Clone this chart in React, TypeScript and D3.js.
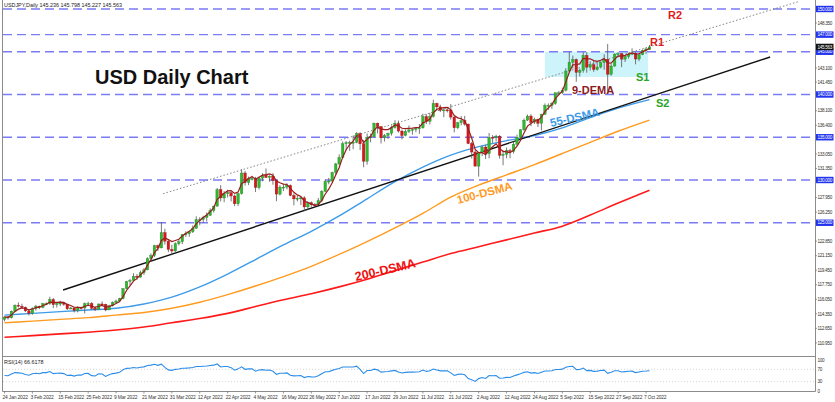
import React, { useEffect, useRef } from 'react';
import * as d3 from 'd3';

const W = 835;
const H = 402;

// USDJPY daily candles [open, high, low, close], 24 Jan 2022 .. 10 Oct 2022 (weekdays)
const candles: [number, number, number, number][] = [
  [113.68,114.03,113.47,113.98],[113.98,114.10,113.67,113.88],[113.88,114.73,113.80,114.66],[114.66,115.45,114.55,115.35],[115.35,115.68,115.10,115.24],[115.24,115.53,114.98,115.12],
  [115.12,115.20,114.56,114.69],[114.69,114.80,114.16,114.41],[114.41,115.10,114.25,114.98],[114.98,115.40,114.72,115.25],[115.25,115.30,114.90,115.09],[115.09,115.63,115.00,115.55],[115.55,115.68,115.40,115.55],[115.55,116.34,115.40,116.03],[116.03,116.19,115.02,115.42],[115.42,115.72,115.08,115.57],[115.57,115.88,115.25,115.61],[115.61,115.70,115.29,115.47],[115.47,115.54,114.79,114.93],[114.93,115.17,114.88,115.03],[115.03,115.10,114.51,114.74],[114.74,115.24,114.52,115.07],[115.07,115.18,114.84,115.03],[115.03,115.67,114.40,115.53],[115.53,115.76,115.25,115.56],[115.56,115.71,114.87,114.99],
  [114.99,115.20,114.68,114.87],[114.87,115.55,114.85,115.50],[115.50,115.80,115.35,115.47],[115.47,115.53,114.65,114.80],[114.80,115.40,114.80,115.29],[115.29,115.80,115.20,115.68],[115.68,116.00,115.55,115.85],[115.85,116.22,115.70,116.13],[116.13,117.35,116.05,117.29],[117.29,118.20,117.22,118.14],[118.14,118.45,117.70,118.26],[118.26,119.10,118.20,118.75],[118.75,119.00,118.30,118.62],[118.62,119.40,118.60,119.17],[119.17,119.70,118.90,119.48],[119.48,120.95,119.45,120.81],[120.81,121.41,120.45,121.18],[121.18,122.42,121.00,122.33],[122.33,122.44,121.70,122.05],[122.05,125.09,122.03,123.85],[123.85,124.30,122.45,122.85],[122.85,123.00,121.56,121.88],[121.88,122.42,121.28,121.70],
  [121.70,122.70,121.60,122.55],[122.55,123.05,122.35,122.78],[122.78,123.70,122.50,123.61],[123.61,124.00,123.35,123.72],[123.72,124.05,123.35,123.95],[123.95,124.69,123.80,124.34],[124.34,125.75,124.30,125.37],[125.37,125.65,124.70,125.39],[125.39,125.82,125.00,125.62],[125.62,126.20,125.15,125.86],[125.86,126.69,125.80,126.42],[126.42,127.00,126.20,126.94],[126.94,129.08,126.90,128.88],[128.88,129.40,127.50,127.90],[127.90,128.70,127.40,128.40],[128.40,128.85,127.95,128.52],[128.52,128.65,127.50,128.13],[128.13,128.30,126.95,127.22],[127.22,128.50,126.97,128.41],[128.41,131.25,128.30,130.82],[130.82,131.05,129.35,129.70],
  [129.70,130.40,129.40,130.16],[130.16,130.50,129.95,130.16],[130.16,130.37,128.60,129.11],[129.11,130.44,128.90,130.21],[130.21,130.80,129.85,130.56],[130.56,131.35,130.25,130.29],[130.29,130.55,129.80,130.45],[130.45,130.80,129.45,129.94],[129.94,130.05,127.52,128.35],[128.35,129.40,128.20,129.17],[129.17,129.50,128.70,129.17],[129.17,129.62,128.90,129.36],[129.36,129.48,128.10,128.19],[128.19,128.43,127.03,127.79],[127.79,128.20,127.50,127.87],[127.87,128.10,127.08,127.91],[127.91,128.10,126.36,126.85],[126.85,127.50,126.50,127.34],[127.34,127.50,126.85,127.12],[127.12,127.30,126.85,127.10],[127.10,127.90,127.05,127.60],[127.60,128.80,127.40,128.67],
  [128.67,130.05,128.60,129.84],[129.84,130.25,129.50,129.88],[129.88,130.98,129.70,130.88],[130.88,132.00,130.60,131.88],[131.88,133.00,131.70,132.64],[132.64,134.50,132.50,134.24],[134.24,134.55,133.50,134.37],[134.37,134.60,133.40,134.40],[134.40,135.20,133.60,134.41],[134.41,135.60,134.30,135.44],[135.44,135.59,133.50,134.23],[134.23,134.68,131.50,132.20],[132.20,135.44,131.80,134.99],[134.99,135.43,134.40,135.07],[135.07,136.71,135.00,136.64],[136.64,136.71,135.45,136.25],[136.25,136.30,134.27,134.93],[134.93,135.38,134.50,135.21],[135.21,135.55,134.80,135.46],[135.46,136.38,135.20,136.13],[136.13,137.00,136.00,136.61],[136.61,136.95,135.55,135.72],
  [135.72,135.90,134.75,135.20],[135.20,135.90,135.10,135.69],[135.69,136.38,135.50,135.86],[135.86,136.00,135.30,135.92],[135.92,136.15,135.60,136.02],[136.02,136.55,135.40,136.10],[136.10,137.75,136.00,137.43],[137.43,137.70,136.55,136.86],[136.86,137.85,136.50,137.42],[137.42,139.38,137.30,138.96],[138.96,139.05,138.10,138.55],[138.55,138.80,137.95,138.14],[138.14,138.40,137.35,138.20],[138.20,138.40,137.90,138.19],[138.19,138.88,137.06,137.36],[137.36,137.50,135.57,136.10],[136.10,136.80,135.95,136.70],[136.70,137.47,136.40,136.95],[136.95,137.50,136.35,136.54],[136.54,136.60,134.20,134.26],[134.26,134.45,132.52,133.27],
  [133.27,133.50,131.60,131.62],[131.62,133.25,130.39,133.18],[133.18,134.00,132.80,133.86],[133.86,134.10,132.45,133.08],[133.08,135.50,132.53,135.00],[135.00,135.25,134.35,134.97],[134.97,135.30,134.50,135.12],[135.12,135.25,132.50,132.88],[132.88,133.45,131.73,133.00],[133.00,133.80,132.55,133.45],[133.45,133.65,132.55,133.32],[133.32,134.45,133.10,134.19],[134.19,135.30,134.00,135.01],[135.01,135.95,134.65,135.87],[135.87,137.20,135.75,137.00],[137.00,137.65,136.90,137.48],[137.48,137.70,136.30,136.75],[136.75,137.30,136.55,137.11],[137.11,137.20,136.20,136.62],[136.62,137.75,135.80,137.69],[137.69,138.95,137.60,138.73],[138.73,138.95,138.20,138.74],[138.74,139.10,138.30,138.95],
  [138.95,140.22,138.80,140.20],[140.20,140.40,139.90,140.20],[140.20,140.80,140.05,140.50],[140.50,143.08,140.35,142.75],[142.75,144.99,142.70,143.78],[143.78,144.55,143.05,144.10],[144.10,144.20,141.49,142.58],[142.58,143.00,142.10,142.83],[142.83,144.95,142.55,144.58],[144.58,144.96,142.55,143.19],[143.19,143.88,142.80,143.48],[143.48,143.95,142.65,142.91],[142.91,143.80,142.80,143.21],[143.21,143.90,143.05,143.73],[143.73,144.70,142.90,144.11],[144.11,145.90,140.35,142.37],[142.37,143.55,142.20,143.33],[143.33,144.80,143.25,144.73],[144.73,144.95,144.35,144.79],[144.79,144.85,143.20,144.14],[144.14,144.55,143.80,144.45],[144.45,144.87,144.20,144.72],
  [144.72,145.40,144.60,144.83],[144.83,144.95,143.53,144.15],[144.15,144.85,143.90,144.64],[144.64,145.25,144.60,145.16],[145.16,145.40,144.75,145.33],[145.236,145.798,145.227,145.563],
];

// x-axis labels, every 8th bar
const dateLabels = ['24 Jan 2022','3 Feb 2022','15 Feb 2022','25 Feb 2022','9 Mar 2022','21 Mar 2022','31 Mar 2022','12 Apr 2022','22 Apr 2022','4 May 2022','16 May 2022','26 May 2022','7 Jun 2022','17 Jun 2022','29 Jun 2022','11 Jul 2022','21 Jul 2022','2 Aug 2022','12 Aug 2022','24 Aug 2022','5 Sep 2022','15 Sep 2022','27 Sep 2022','7 Oct 2022'];

// moving averages read at every 8th bar (+ last bar)
const maBars = [0,8,16,24,32,40,48,56,64,72,80,88,96,104,112,120,128,136,144,152,160,168,176,185];
const sma55 = [114.2,114.4,114.6,114.8,115.0,115.5,116.3,117.5,119.0,120.7,122.4,124.0,125.8,127.8,129.8,131.5,132.9,133.9,134.6,135.2,136.1,137.3,138.4,139.4];
const sma100 = [113.3,113.5,113.7,113.9,114.2,114.5,115.0,115.7,116.6,117.6,118.7,119.9,121.3,122.8,124.4,126.1,128.0,129.4,130.6,131.8,133.1,134.4,135.7,137.0];
const sma200 = [111.6,111.8,112.0,112.2,112.45,112.8,113.3,113.8,114.4,115.2,116.0,116.7,117.5,118.4,119.4,120.4,121.4,122.2,123.0,123.8,124.6,125.9,127.3,128.8];

// horizontal levels and price-scale labels
const levels = [150, 147, 145, 140, 135, 130, 125];
const axisTicks = [148.35,143.1,141.45,138.1,136.4,133.05,131.35,127.95,126.25,122.85,121.15,119.45,117.75,116.05,114.35,112.65,110.95];
const rsiTicks = [100, 70, 30, 0];
const headerValues = ['145.236','145.798','145.227','145.563'];
const lastPrice = 145.563;
const rsiLast = '66.6178';

// trend lines [bar, price]
const supportLine: [number, number][] = [[16.8, 117.13], [219.6, 144.39]];
const channelLine: [number, number][] = [[45.5, 128.4], [228, 150.9]];
const s1Zone = { fromBar: 155, toBar: 184.6, top: 145.0, bottom: 142.05 };

export default function App() {
  const ref = useRef<SVGSVGElement>(null);
  useEffect(() => {
    const svg = d3.select(ref.current);
    svg.selectAll('*').remove();
    const font = 'Liberation Sans, Arial, sans-serif';
    const x = d3.scaleLinear().domain([0, 185]).range([4.5, 649.5]);
    const y = d3.scaleLinear().domain([150, 110]).range([9, 351]);
    const yr = d3.scaleLinear().domain([0, 100]).range([391, 360]);
    const axisX = 815.5;
    const mainBottom = 356.5;
    const rsiBottom = 391.5;

    svg.append('rect').attr('width', W).attr('height', H).attr('fill', '#fff');
    svg.append('defs').append('clipPath').attr('id', 'mainclip')
      .append('rect').attr('x', 3).attr('y', 0).attr('width', axisX - 3).attr('height', mainBottom);
    const main = svg.append('g').attr('clip-path', 'url(#mainclip)');

    // S1 zone
    main.append('rect')
      .attr('x', x(s1Zone.fromBar)).attr('y', y(s1Zone.top))
      .attr('width', x(s1Zone.toBar) - x(s1Zone.fromBar)).attr('height', y(s1Zone.bottom) - y(s1Zone.top))
      .attr('fill', '#cdf3fb');

    // horizontal dashed levels
    main.selectAll('line.lvl').data(levels).enter().append('line')
      .attr('x1', 3).attr('x2', axisX).attr('y1', d => y(d)).attr('y2', d => y(d))
      .attr('stroke', '#7b7bf5').attr('stroke-width', 1.3).attr('stroke-dasharray', '9,5');

    // SMAs
    const maLine = d3.line<number>().x((_, i) => x(maBars[i])).y(d => y(d)).curve(d3.curveMonotoneX);
    main.append('path').attr('d', maLine(sma200)).attr('fill', 'none').attr('stroke', '#ff1a1a').attr('stroke-width', 1.6);
    main.append('path').attr('d', maLine(sma100)).attr('fill', 'none').attr('stroke', '#ff9a1f').attr('stroke-width', 1.4);
    main.append('path').attr('d', maLine(sma55)).attr('fill', 'none').attr('stroke', '#3d9be9').attr('stroke-width', 1.4);

    // trend lines
    const tl = d3.line<[number, number]>().x(d => x(d[0])).y(d => y(d[1]));
    main.append('path').attr('d', tl(supportLine)).attr('stroke', '#111').attr('stroke-width', 1.4).attr('fill', 'none');
    main.append('path').attr('d', tl(channelLine)).attr('stroke', '#777').attr('stroke-width', 0.9).attr('stroke-dasharray', '1.5,2').attr('fill', 'none');

    // candles
    const cg = main.append('g');
    candles.forEach((c, i) => {
      const [o, h, l, cl] = c;
      const cx = x(i);
      cg.append('line').attr('x1', cx).attr('x2', cx).attr('y1', y(h)).attr('y2', y(l)).attr('stroke', '#555').attr('stroke-width', 0.8);
      const top = y(Math.max(o, cl));
      const bh = Math.max(1, Math.abs(y(o) - y(cl)));
      cg.append('rect').attr('x', cx - 1.3).attr('y', top).attr('width', 2.6).attr('height', bh)
        .attr('fill', cl >= o ? '#2fb82f' : '#d81818').attr('stroke', cl >= o ? '#1d7a1d' : '#8a0f0f').attr('stroke-width', 0.3);
    });

    // 9-DEMA computed from closes
    const closes = candles.map(c => c[3]);
    const ema = (arr: number[], n: number) => {
      const k = 2 / (n + 1);
      const out: number[] = [];
      arr.forEach((v, i) => out.push(i === 0 ? v : v * k + out[i - 1] * (1 - k)));
      return out;
    };
    const e1 = ema(closes, 9);
    const e2 = ema(e1, 9);
    const dema = e1.map((v, i) => 2 * v - e2[i]);
    main.append('path').attr('d', d3.line<number>().x((_, i) => x(i)).y(d => y(d))(dema))
      .attr('fill', 'none').attr('stroke', '#9b1c1c').attr('stroke-width', 1.2);

    // annotations
    const ann = (t: string, px: number, py: number, color: string, size: number, rot = 0) => {
      svg.append('text').text(t).attr('x', px).attr('y', py).attr('fill', color)
        .attr('font-family', font).attr('font-weight', 'bold').attr('font-size', size)
        .attr('transform', rot ? `rotate(${rot},${px},${py})` : null);
    };
    ann('USD Daily Chart', 95, 84, '#111', 20);
    ann('R2', 668, 19, '#e01b1b', 11);
    ann('R1', 650, 46, '#e01b1b', 11);
    ann('S1', 636, 81, '#2aa52a', 11);
    ann('S2', 656, 107, '#2aa52a', 11);
    ann('9-DEMA', 572, 94, '#8b1a1a', 11);
    ann('55-DSMA', 551, 127, '#3d9be9', 11.5, -13);
    ann('100-DSMA', 458, 204, '#ff9a1f', 11.5, -15);
    ann('200-DSMA', 356, 281, '#ee1111', 12.5, -13);

    // small text helper
    const small = (t: string, px: number, py: number, color: string, size = 5.2, spacing = 0) => {
      svg.append('text').text(t).attr('x', px).attr('y', py).attr('fill', color)
        .attr('font-family', font).attr('font-size', size)
        .attr('letter-spacing', spacing);
    };

    // header
    small('USDJPY,Daily  ' + headerValues.join(' '), 4, 7, '#222', 5.4);

    // RSI (Wilder, 14) from closes
    const rsi: number[] = [];
    let ag = 0.25, al = 0.25;
    closes.forEach((c, i) => {
      if (i > 0) {
        const ch = c - closes[i - 1];
        ag = (ag * 13 + Math.max(ch, 0)) / 14;
        al = (al * 13 + Math.max(-ch, 0)) / 14;
      }
      rsi.push(100 - 100 / (1 + ag / al));
    });
    [70, 30].forEach(v => {
      svg.append('line').attr('x1', 3).attr('x2', axisX).attr('y1', yr(v)).attr('y2', yr(v))
        .attr('stroke', '#bbb').attr('stroke-width', 0.6).attr('stroke-dasharray', '1,2');
    });
    svg.append('path').attr('d', d3.line<number>().x((_, i) => x(i)).y(d => yr(d))(rsi))
      .attr('fill', 'none').attr('stroke', '#2b8de8').attr('stroke-width', 1.1);
    small('RSI(14) ' + rsiLast, 4, 364, '#222', 5.4);

    // frames
    const frame = svg.append('g').attr('stroke', '#8c8c8c').attr('stroke-width', 1);
    frame.append('line').attr('x1', 2.5).attr('x2', 2.5).attr('y1', 0).attr('y2', rsiBottom);
    frame.append('line').attr('x1', axisX).attr('x2', axisX).attr('y1', 0).attr('y2', rsiBottom);
    frame.append('line').attr('x1', 2.5).attr('x2', axisX).attr('y1', mainBottom).attr('y2', mainBottom);
    frame.append('line').attr('x1', 2.5).attr('x2', axisX).attr('y1', rsiBottom).attr('y2', rsiBottom);

    // price axis labels
    const axSize = 4.6;
    const axSp = -0.3;
    axisTicks.forEach(v => {
      svg.append('line').attr('x1', axisX).attr('x2', axisX + 1.5).attr('y1', y(v)).attr('y2', y(v)).attr('stroke', '#555').attr('stroke-width', 0.6);
      small(v.toFixed(3), axisX + 2, y(v) + 1.7, '#333', axSize, axSp);
    });
    levels.forEach(v => {
      svg.append('rect').attr('x', axisX + 0.5).attr('y', y(v) - 3.2).attr('width', 17.5).attr('height', 6.4).attr('fill', '#2233ee');
      small(v.toFixed(3), axisX + 2, y(v) + 1.7, '#fff', axSize, axSp);
    });
    svg.append('rect').attr('x', axisX + 0.5).attr('y', y(lastPrice) - 3.2).attr('width', 17.5).attr('height', 6.4).attr('fill', '#111');
    small(lastPrice.toFixed(3), axisX + 2, y(lastPrice) + 1.7, '#fff', axSize, axSp);
    rsiTicks.forEach(v => {
      small(String(v), axisX + 2, yr(v) + 1.7, '#333', axSize, axSp);
    });

    // date labels
    dateLabels.forEach((t, k) => {
      const bx = x(k * 8);
      svg.append('line').attr('x1', bx).attr('x2', bx).attr('y1', rsiBottom).attr('y2', rsiBottom + 2).attr('stroke', '#555').attr('stroke-width', 0.6);
      small(t, bx - 2, 398.5, '#333', 4.9, -0.15);
    });
  }, []);
  return (
    <div style={{ position: 'absolute', left: 0, top: 0 }}>
      <svg ref={ref} width={W} height={H} style={{ display: 'block' }} />
    </div>
  );
}
